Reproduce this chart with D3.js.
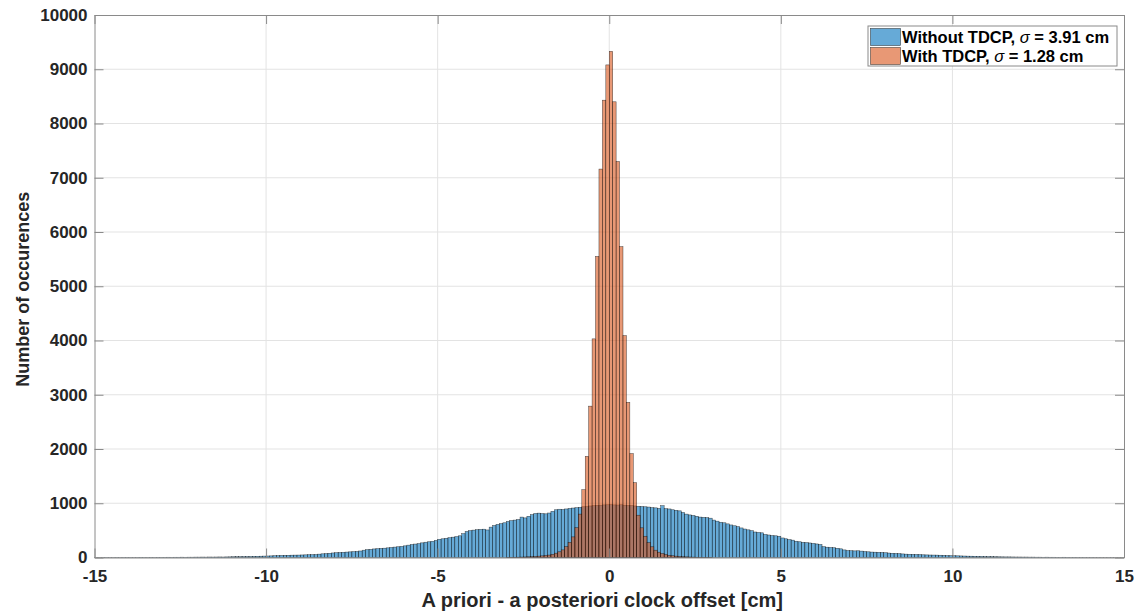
<!DOCTYPE html>
<html>
<head>
<meta charset="utf-8">
<script src="https://cdn.jsdelivr.net/npm/d3@7"></script>
<style>
  body { margin: 0; background: #fff; }
  svg { display: block; }
</style>
</head>
<body>
<svg id="chart" width="1135" height="615"></svg>
<script>
// histogram bins are 0.1 cm wide
const binWidth = 0.1;

// Without TDCP: counts for bins starting at -15 cm
const blueStart = -15;
const blueCounts = [
  2, 1, 2, 3, 2, 2, 3, 2, 3, 3,
  3, 2, 3, 4, 3, 3, 4, 3, 4, 4,
  4, 5, 4, 5, 5, 6, 5, 6, 6, 7,
  7, 8, 7, 9, 8, 9, 10, 9, 11, 12,
  14, 15, 16, 17, 18, 19, 21, 22, 24, 26,
  28, 30, 33, 35, 38, 40, 41, 43, 44, 45,
  47, 49, 51, 53, 55, 62, 68, 72, 78, 84,
  88, 92, 96, 100, 104, 108, 112, 120, 135, 145,
  150, 158, 163, 168, 172, 178, 185, 192, 198, 205,
  215, 228, 240, 248, 256, 270, 282, 290, 298, 315,
  335, 345, 355, 365, 375, 385, 400, 440, 480, 495,
  505, 512, 518, 522, 508, 560, 590, 610, 625, 640,
  665, 680, 690, 700, 745, 730, 760, 790, 812, 818,
  810, 805, 820, 850, 880, 890, 885, 895, 905, 912,
  918, 925, 935, 940, 950, 955, 960, 965, 970, 972,
  975, 970, 968, 972, 965, 960, 958, 950, 945, 940,
  935, 930, 920, 915, 905, 955, 900, 895, 880, 870,
  860, 830, 800, 785, 775, 760, 745, 740, 735, 725,
  690, 670, 650, 640, 620, 600, 585, 570, 545, 525,
  510, 495, 470, 462, 455, 425, 415, 405, 400, 392,
  360, 345, 330, 320, 300, 290, 280, 275, 268, 260,
  250, 240, 200, 190, 185, 180, 170, 160, 140, 128,
  125, 122, 124, 118, 110, 105, 100, 98, 96, 93,
  88, 82, 78, 75, 72, 66, 62, 60, 58, 56,
  54, 50, 48, 46, 45, 44, 42, 40, 36, 34,
  33, 31, 29, 27, 25, 24, 22, 21, 20, 18,
  17, 16, 14, 13, 12, 11, 11, 10, 9, 9,
  8, 8, 7, 7, 6, 6, 5, 6, 5, 5,
  4, 4, 5, 4, 3, 4, 3, 3, 3, 2,
  3, 2, 2, 2, 1, 2, 2, 1, 1, 1
];

// With TDCP: counts for bins starting at -3 cm
const orangeStart = -3;
const orangeCounts = [
  3, 4, 5, 6, 8, 10, 13, 16, 20, 25,
  30, 38, 45, 60, 80, 105, 140, 200, 280, 380,
  550, 800, 1250, 1865, 2790, 4030, 5550, 7160, 8430, 9080,
  9330, 8400, 7300, 5730, 4090, 2860, 1915, 1380, 780, 547,
  392, 275, 197, 135, 98, 73, 55, 40, 32, 25,
  20, 15, 12, 9, 7, 5, 4, 3, 2, 2
];

const xTicks = [-15, -10, -5, 0, 5, 10, 15];
const yTicks = [0, 1000, 2000, 3000, 4000, 5000, 6000, 7000, 8000, 9000, 10000];

const seriesNames = ['Without TDCP, ', 'With TDCP, '];
const sigmas = ['3.91', '1.28'];
const seriesColors = ['#0072BD', '#D95319'];

const font = "'Liberation Sans', Arial, sans-serif";
const ink = '#262626';

const svg = d3.select('#chart');
const x = d3.scaleLinear().domain([-15, 15]).range([94.5, 1124]);
const y = d3.scaleLinear().domain([0, 10000]).range([557.5, 15]);

const toBins = (start, counts) => counts.map((c, i) => ({
  x0: +(start + i * binWidth).toFixed(2),
  x1: +(start + (i + 1) * binWidth).toFixed(2),
  value: c,
}));

// grid
const grid = svg.append('g').attr('stroke', '#e3e3e3').attr('stroke-width', 1);
grid.selectAll('line.gx').data(xTicks.slice(1, -1)).enter().append('line')
    .attr('x1', d => x(d)).attr('x2', d => x(d))
    .attr('y1', y(0)).attr('y2', y(10000));
grid.selectAll('line.gy').data(yTicks.slice(1, -1)).enter().append('line')
    .attr('y1', d => y(d)).attr('y2', d => y(d))
    .attr('x1', x(-15)).attr('x2', x(15));

// bars
[toBins(blueStart, blueCounts), toBins(orangeStart, orangeCounts)].forEach((bins, k) => {
  svg.append('g').selectAll('rect')
    .data(bins.filter(b => b.value > 0))
    .enter().append('rect')
      .attr('x', d => x(d.x0))
      .attr('width', d => x(d.x1) - x(d.x0))
      .attr('y', d => y(d.value))
      .attr('height', d => y(0) - y(d.value))
      .attr('fill', seriesColors[k])
      .attr('fill-opacity', 0.6)
      .attr('stroke', '#000')
      .attr('stroke-opacity', 0.7)
      .attr('stroke-width', 0.5);
});

// axes (box with inward ticks), plain hyphen for negatives like MATLAB
const plain = d => String(d);
const styleAxis = g => {
  g.select('.domain').attr('stroke', '#8a8a8a');
  g.selectAll('.tick line').attr('stroke', '#8a8a8a');
  g.selectAll('.tick text')
      .style('font-family', font).style('font-size', '17px')
      .style('font-weight', 'bold').attr('fill', ink);
};
svg.append('g').attr('transform', `translate(0,${y(0)})`)
  .call(d3.axisBottom(x).tickValues(xTicks).tickSizeInner(-9).tickSizeOuter(0).tickPadding(12).tickFormat(plain))
  .call(styleAxis);
svg.append('g').attr('transform', `translate(0,${y(10000)})`)
  .call(d3.axisTop(x).tickValues(xTicks).tickSizeInner(-9).tickSizeOuter(0).tickFormat(''))
  .call(styleAxis);
svg.append('g').attr('transform', `translate(${x(-15)},0)`)
  .call(d3.axisLeft(y).tickValues(yTicks).tickSizeInner(-9).tickSizeOuter(0).tickPadding(7).tickFormat(plain))
  .call(styleAxis);
svg.append('g').attr('transform', `translate(${x(15)},0)`)
  .call(d3.axisRight(y).tickValues(yTicks).tickSizeInner(-9).tickSizeOuter(0).tickFormat(''))
  .call(styleAxis);

// axis labels
svg.append('text')
    .attr('x', (x(-15) + x(15)) / 2 - 7).attr('y', 607)
    .attr('text-anchor', 'middle')
    .style('font-family', font).style('font-size', '20px').style('font-weight', 'bold')
    .attr('fill', ink)
    .text('A priori - a posteriori clock offset [cm]');
svg.append('text')
    .attr('transform', `translate(29,${(y(0) + y(10000)) / 2 + 3}) rotate(-90)`)
    .attr('text-anchor', 'middle')
    .style('font-family', font).style('font-size', '18px').style('font-weight', 'bold')
    .attr('fill', ink)
    .text('Number of occurences');

// legend
const legend = svg.append('g').attr('transform', 'translate(868,26)');
legend.append('rect')
    .attr('width', 249).attr('height', 40)
    .attr('fill', '#fff').attr('stroke', '#8a8a8a').attr('stroke-width', 1);
seriesNames.forEach((name, i) => {
  const row = legend.append('g').attr('transform', `translate(0,${2 + i * 19})`);
  row.append('rect')
      .attr('x', 2.5).attr('y', 0.5).attr('width', 30).attr('height', 17)
      .attr('fill', seriesColors[i]).attr('fill-opacity', 0.6)
      .attr('stroke', '#000').attr('stroke-opacity', 0.7).attr('stroke-width', 0.6);
  const t = row.append('text')
      .attr('x', 34).attr('y', 15)
      .style('font-family', font).style('font-size', '16.5px').style('font-weight', 'bold')
      .attr('fill', '#000');
  t.append('tspan').text(name);
  t.append('tspan').style('font-style', 'italic').style('font-weight', 'normal').text('σ');
  t.append('tspan').text(` = ${sigmas[i]} cm`);
});
</script>
</body>
</html>
